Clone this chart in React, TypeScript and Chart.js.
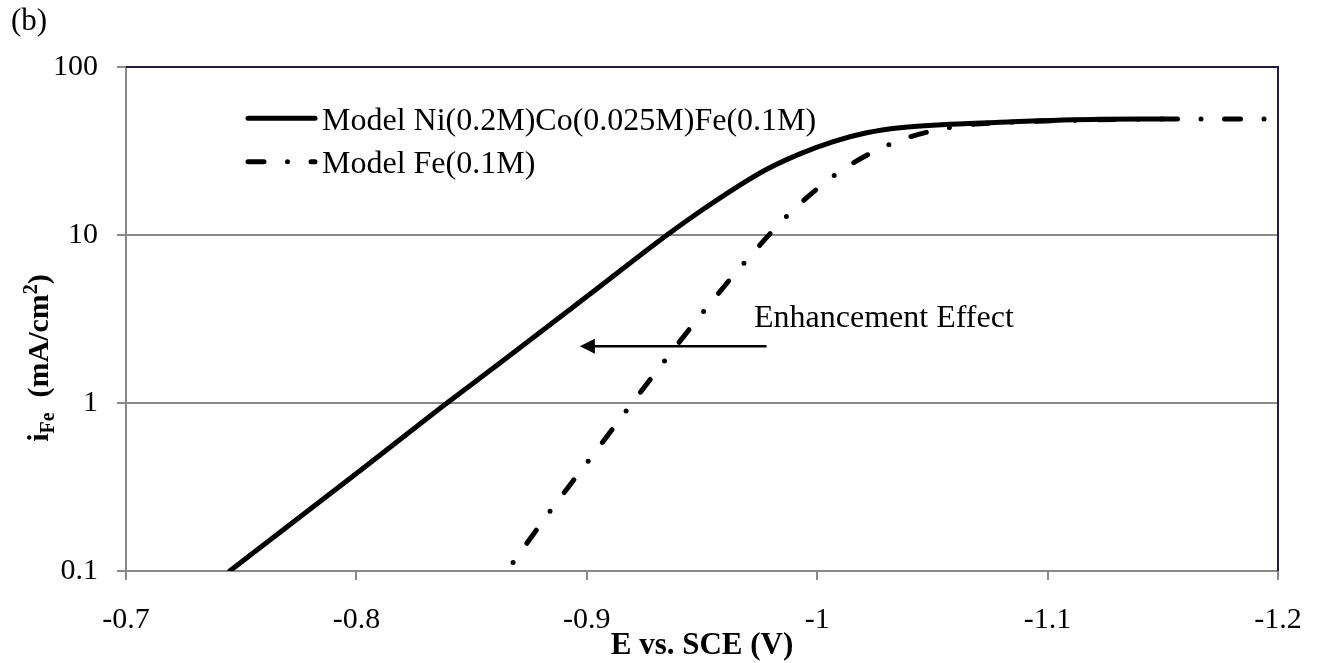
import React, { useEffect, useRef } from 'react';
import { Chart, registerables } from 'chart.js';

Chart.register(...registerables);

// ---------- data ----------
const SERIES_NAMES = ['Model Ni(0.2M)Co(0.025M)Fe(0.1M)', 'Model Fe(0.1M)'];

const NICOFE_E = [-0.745, -0.8, -0.8393, -0.8623, -0.9, -0.9348, -0.9491, -0.9636, -0.9781, -0.9925, -1.007, -1.0215, -1.0359, -1.0576, -1.0793, -1.1227, -1.15];
const NICOFE_I = [0.1, 0.38, 1.0, 1.73, 4.3, 10, 13.8, 18.7, 24.6, 30.4, 36.0, 40.6, 43.5, 45.6, 46.9, 48.8, 49.0];

const FE_E = [-0.8675, -0.8843, -0.901, -0.9176, -0.9347, -0.9516, -0.9694, -0.9882, -1.0092, -1.0335, -1.0605, -1.09, -1.12, -1.15, -1.2];
const FE_I = [0.11, 0.229, 0.458, 0.917, 1.85, 3.63, 7.1, 13.5, 23.5, 35.6, 44.3, 47.3, 48.5, 49.0, 49.0];

const X_TICKS = [-1.2, -1.1, -1.0, -0.9, -0.8, -0.7];
const Y_TICKS = [0.1, 1, 10, 100];

const X_TITLE = 'E vs. SCE (V)';
const Y_TITLE_MAIN = 'i';
const Y_TITLE_SUB = 'Fe';
const Y_TITLE_REST = '  (mA/cm';
const Y_TITLE_SUP = '2';
const Y_TITLE_END = ')';
const PANEL_LABEL = '(b)';

const ANNOT_TEXT = 'Enhancement Effect';
const ARROW_FROM_E = -0.978;
const ARROW_TO_E = -0.897;
const ARROW_I = 2.18;
const ANNOT_TEXT_E = -0.9726;
const ANNOT_TEXT_I = 2.85;

// ---------- styles ----------
const SERIF = "'Liberation Serif', 'Times New Roman', serif";
const GRID = '#898989';
const FRAME = '#241a46';
const DASH = [16, 23.5, 0, 23.5];

const overlay = {
  id: 'overlay',
  afterDatasetsDraw(chart: any) {
    const { ctx, scales } = chart;
    const x = scales.x;
    const y = scales.y;
    ctx.save();
    // annotation arrow
    const x0 = x.getPixelForValue(ARROW_FROM_E);
    const x1 = x.getPixelForValue(ARROW_TO_E);
    const ay = y.getPixelForValue(ARROW_I);
    ctx.strokeStyle = '#000';
    ctx.fillStyle = '#000';
    ctx.lineWidth = 2.5;
    ctx.beginPath();
    ctx.moveTo(x0, ay);
    ctx.lineTo(x1 + 12, ay);
    ctx.stroke();
    ctx.beginPath();
    ctx.moveTo(x1, ay);
    ctx.lineTo(x1 + 15, ay - 7.5);
    ctx.lineTo(x1 + 15, ay + 7.5);
    ctx.closePath();
    ctx.fill();
    // annotation text
    ctx.font = `32px ${SERIF}`;
    ctx.textAlign = 'left';
    ctx.textBaseline = 'alphabetic';
    ctx.fillText(ANNOT_TEXT, x.getPixelForValue(ANNOT_TEXT_E), y.getPixelForValue(ANNOT_TEXT_I));
    ctx.restore();
  },
  afterDraw(chart: any) {
    const { ctx, chartArea: ca } = chart;
    ctx.save();
    // top / right frame
    ctx.strokeStyle = FRAME;
    ctx.lineWidth = 2;
    ctx.beginPath();
    ctx.moveTo(ca.left, ca.top);
    ctx.lineTo(ca.right, ca.top);
    ctx.lineTo(ca.right, ca.bottom);
    ctx.stroke();

    // legend
    ctx.strokeStyle = '#000';
    ctx.lineWidth = 5;
    ctx.lineCap = 'round';
    ctx.beginPath();
    ctx.moveTo(248, 118.3);
    ctx.lineTo(315, 118.3);
    ctx.stroke();
    ctx.setLineDash(DASH);
    ctx.beginPath();
    ctx.moveTo(248, 161.7);
    ctx.lineTo(315, 161.7);
    ctx.stroke();
    ctx.setLineDash([]);
    ctx.fillStyle = '#000';
    ctx.font = `32px ${SERIF}`;
    ctx.textAlign = 'left';
    ctx.textBaseline = 'alphabetic';
    ctx.fillText(SERIES_NAMES[0], 322, 130);
    ctx.fillText(SERIES_NAMES[1], 322, 173.3);

    // panel label
    ctx.font = `31px ${SERIF}`;
    ctx.textBaseline = 'middle';
    ctx.fillText(PANEL_LABEL, 11, 22);

    // y title (rotated, with sub/superscript)
    const big = `bold 30px ${SERIF}`;
    const small = `bold 20px ${SERIF}`;
    ctx.font = big;
    const wMain = ctx.measureText(Y_TITLE_MAIN).width;
    const wRest = ctx.measureText(Y_TITLE_REST).width;
    const wEnd = ctx.measureText(Y_TITLE_END).width;
    ctx.font = small;
    const wSub = ctx.measureText(Y_TITLE_SUB).width;
    const wSup = ctx.measureText(Y_TITLE_SUP).width;
    const total = wMain + wSub + wRest + wSup + wEnd;
    ctx.translate(48, 358);
    ctx.rotate(-Math.PI / 2);
    ctx.textBaseline = 'alphabetic';
    let cx = -total / 2;
    ctx.font = big;
    ctx.fillText(Y_TITLE_MAIN, cx, 0);
    cx += wMain;
    ctx.font = small;
    ctx.fillText(Y_TITLE_SUB, cx, 6);
    cx += wSub;
    ctx.font = big;
    ctx.fillText(Y_TITLE_REST, cx, 0);
    cx += wRest;
    ctx.font = small;
    ctx.fillText(Y_TITLE_SUP, cx, -11);
    cx += wSup;
    ctx.font = big;
    ctx.fillText(Y_TITLE_END, cx, 0);
    ctx.restore();
  },
};

export default function App() {
  const ref = useRef<HTMLCanvasElement | null>(null);

  useEffect(() => {
    if (!ref.current) return;
    const chart = new Chart(ref.current, {
      type: 'line',
      data: {
        datasets: [
          {
            label: SERIES_NAMES[0],
            data: NICOFE_E.map((e, i) => ({ x: e, y: NICOFE_I[i] })),
            borderColor: '#000',
            borderWidth: 5,
            pointRadius: 0,
            fill: false,
            cubicInterpolationMode: 'monotone',
            borderCapStyle: 'round',
            borderJoinStyle: 'round',
          },
          {
            label: SERIES_NAMES[1],
            data: FE_E.map((e, i) => ({ x: e, y: FE_I[i] })),
            borderColor: '#000',
            borderWidth: 5,
            pointRadius: 0,
            fill: false,
            cubicInterpolationMode: 'monotone',
            borderCapStyle: 'round',
            borderJoinStyle: 'round',
            borderDash: DASH,
            borderDashOffset: 37.5,
          },
        ],
      },
      options: {
        responsive: false,
        animation: false,
        devicePixelRatio: 1,
        layout: { padding: { top: 67, right: 43, left: 0, bottom: 0 } },
        plugins: { legend: { display: false }, tooltip: { enabled: false } },
        scales: {
          x: {
            type: 'linear',
            min: -1.2,
            max: -0.7,
            reverse: true,
            afterBuildTicks: (s: any) => {
              s.ticks = X_TICKS.map((v) => ({ value: v }));
            },
            afterFit: (s: any) => {
              s.height = 92;
            },
            ticks: {
              color: '#000',
              font: { family: SERIF, size: 30 },
              padding: 22,
              maxRotation: 0,
              callback: (v: any) => String(Number(Number(v).toFixed(1))),
            },
            grid: { drawOnChartArea: false, drawTicks: true, tickLength: 9, color: GRID, lineWidth: 2 },
            border: { display: true, color: GRID, width: 2 },
            title: {
              display: true,
              text: X_TITLE,
              color: '#000',
              font: { family: SERIF, size: 31, weight: 'bold', lineHeight: 1.1 },
              padding: { top: 0, bottom: 0 },
            },
          },
          y: {
            type: 'logarithmic',
            min: 0.1,
            max: 100,
            afterBuildTicks: (s: any) => {
              s.ticks = Y_TICKS.map((v) => ({ value: v }));
            },
            afterFit: (s: any) => {
              s.width = 126;
            },
            ticks: {
              color: '#000',
              font: { family: SERIF, size: 30 },
              padding: 19,
              callback: (v: any) => String(Number(v)),
            },
            grid: { drawOnChartArea: true, drawTicks: true, tickLength: 9, color: GRID, lineWidth: 2 },
            border: { display: true, color: GRID, width: 2 },
          },
        },
      },
      plugins: [overlay],
    } as any);
    return () => chart.destroy();
  }, []);

  return (
    <div style={{ position: 'absolute', left: 0, top: 0, width: 1321, height: 663, background: '#fff' }}>
      <canvas ref={ref} width={1321} height={663} style={{ width: 1321, height: 663, display: 'block' }} />
    </div>
  );
}
